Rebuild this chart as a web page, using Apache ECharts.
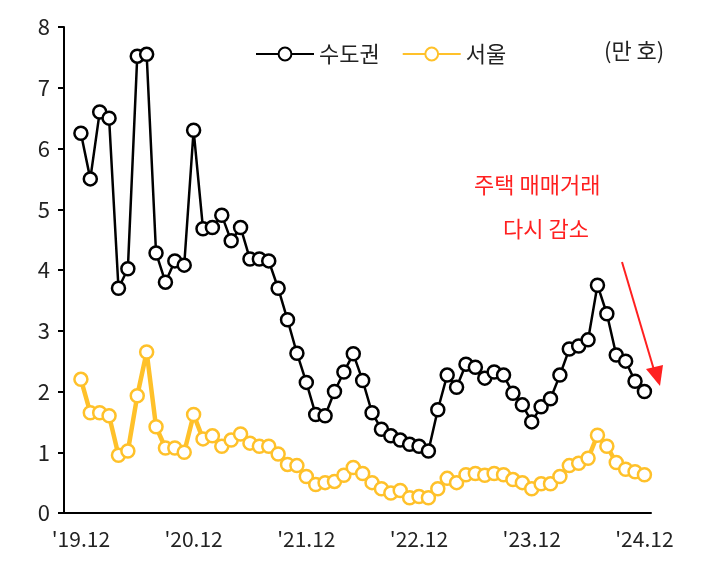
<!DOCTYPE html>
<html><head><meta charset="utf-8">
<script src="https://cdn.jsdelivr.net/npm/echarts@6/dist/echarts.min.js"></script>
<style>html,body{margin:0;padding:0;background:#fff}#c{width:725px;height:576px}</style>
</head><body><div id="c"></div>
<script>
const tickLabels = {0:"'19.12",12:"'20.12",24:"'21.12",36:"'22.12",48:"'23.12",60:"'24.12"};
const metro = [6.25,5.5,6.6,6.5,3.7,4.02,7.52,7.55,4.28,3.8,
 4.15,4.08,6.3,4.68,4.7,4.9,4.48,4.7,4.18,4.18,
 4.15,3.7,3.18,2.63,2.15,1.62,1.6,2.0,2.32,2.62,
 2.18,1.65,1.38,1.27,1.2,1.13,1.1,1.02,1.7,2.27,
 2.07,2.45,2.4,2.22,2.32,2.27,1.97,1.78,1.5,1.75,
 1.88,2.27,2.7,2.75,2.85,3.75,3.28,2.6,2.5,2.17,2.0];
const seoul = [2.2,1.65,1.65,1.6,0.95,1.02,1.93,2.65,1.42,1.07,
 1.07,1.0,1.62,1.22,1.27,1.1,1.2,1.3,1.15,1.1,
 1.1,0.97,0.8,0.78,0.6,0.47,0.5,0.52,0.62,0.75,
 0.65,0.5,0.4,0.33,0.37,0.25,0.27,0.25,0.4,0.57,
 0.5,0.63,0.65,0.62,0.65,0.63,0.55,0.5,0.4,0.48,
 0.48,0.6,0.78,0.82,0.9,1.28,1.1,0.83,0.72,0.68,0.63];
const F = "'Noto Sans CJK KR','Noto Sans',sans-serif";
const chart = echarts.init(document.getElementById('c'));
chart.setOption({
  animation:false,
  grid:{left:64,right:74,top:27,bottom:63},
  legend:{top:38,left:250,itemWidth:58,itemHeight:16,itemGap:22,
    textStyle:{fontFamily:F,fontSize:22,color:'#222'},
    data:['수도권','서울']},
  xAxis:{type:'value',min:-1.8,max:60.7,
    axisLine:{onZero:false,lineStyle:{color:'#000',width:2}},axisTick:{show:false},splitLine:{show:false},
    axisLabel:{fontFamily:F,fontSize:21,color:'#222',margin:16,
      customValues:[0,12,24,36,48,60],formatter:v=>tickLabels[Math.round(v)]||''}},
  yAxis:{type:'value',min:0,max:8,interval:1,
    axisLine:{show:true,onZero:false,lineStyle:{color:'#000',width:2}},
    axisTick:{show:true,inside:false,length:6,lineStyle:{color:'#000',width:2}},
    splitLine:{show:false},
    axisLabel:{fontFamily:F,fontSize:22,color:'#222',margin:14}},
  series:[
    {name:'수도권',type:'line',data:metro.map((v,i)=>[i,v]),symbol:'circle',symbolSize:13,
     lineStyle:{color:'#000',width:2.5},itemStyle:{color:'#fff',borderColor:'#000',borderWidth:2.5},z:3},
    {name:'서울',type:'line',data:seoul.map((v,i)=>[i,v]),symbol:'circle',symbolSize:13,
     lineStyle:{color:'#FFC12A',width:4.5},itemStyle:{color:'#fff',borderColor:'#FFC12A',borderWidth:2.5},z:2}
  ],
  graphic:[
    {type:'text',left:604,top:40,style:{text:'(만 호)',font:"22px "+F,fill:'#222'}},
    {type:'text',left:474,top:174,style:{text:'주택 매매거래',font:"22px "+F,fill:'#FF2020'}},
    {type:'text',left:503,top:218,style:{text:'다시 감소',font:"22px "+F,fill:'#FF2020'}},
    {type:'line',shape:{x1:622,y1:262,x2:654,y2:370},style:{stroke:'#FF2020',lineWidth:2}},
    {type:'polygon',shape:{points:[[660,386],[646,369],[663,365]]},style:{fill:'#FF2020'}}
  ]
});
</script></body></html>
